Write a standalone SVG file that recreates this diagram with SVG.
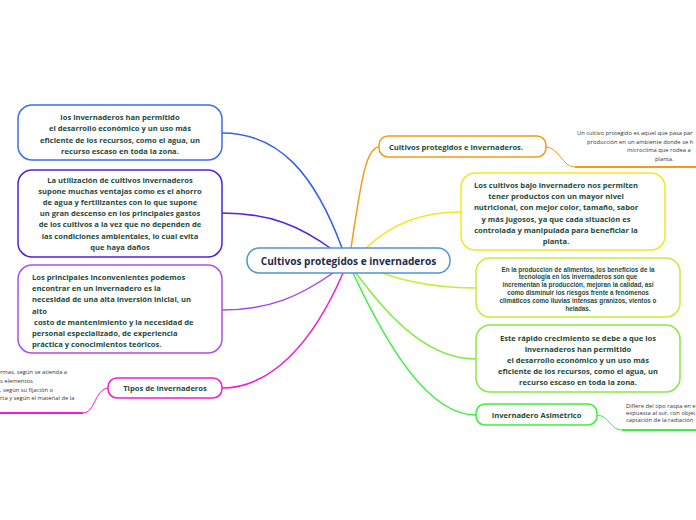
<svg xmlns="http://www.w3.org/2000/svg" width="696" height="520" viewBox="0 0 696 520">
<style>
.n{fill:#fff;stroke-width:1.5}
.t{font-family:"Open Sans","Noto Sans",sans-serif;font-weight:700;font-size:7.6px;fill:#1d4a3c}
.c{text-anchor:middle}
.a{font-family:"Liberation Sans",Arial,sans-serif;font-weight:700;font-size:6.3px;fill:#1d4a3c;text-anchor:middle}
.s{font-family:"Open Sans","Noto Sans",sans-serif;font-size:5.8px;fill:#333}
.e{fill:none;stroke-width:1.5;stroke-linecap:round}
</style>
<rect width="696" height="520" fill="#fff"/>
<g id="connectors">
<path class="e" stroke="#2f62f2" d="M342,248 C315,175 280,133 222,133"/>
<path class="e" stroke="#5424e0" d="M333,250 C300,226 270,213 222,213"/>
<path class="e" stroke="#a844ea" d="M333,273 C300,296 270,310 222,310"/>
<path class="e" stroke="#f21ad6" d="M343,273 C312,345 270,388 222,388"/>
<path class="e" stroke="#f59a1b" d="M351,248 C360,190 365,147 379,147"/>
<path class="e" stroke="#f3e625" d="M366,248 C392,224 420,212 461,212"/>
<path class="e" stroke="#c2ee3e" d="M382,273 C410,283 440,288 476,288"/>
<path class="e" stroke="#86ea46" d="M356,273 C392,322 430,359 476,359"/>
<path class="e" stroke="#3eee3e" d="M353,273 C390,352 430,415 476,415"/>
<path fill="none" stroke="#f59a1b" stroke-width="1" d="M546,147 C560,148 562,167 575,167"/>
<path fill="none" stroke="#f59a1b" stroke-width="2" d="M575,167 L696,167"/>
<path fill="none" stroke="#3eee3e" stroke-width="1" d="M597,415 C610,416 610,430 622,430"/>
<path fill="none" stroke="#3eee3e" stroke-width="2" d="M622,430 L696,430"/>
<path fill="none" stroke="#f21ad6" stroke-width="1" d="M108,388 C95,389 95,413 83,413"/>
<path fill="none" stroke="#f21ad6" stroke-width="2" d="M83,413 L0,413"/>
</g>
<g id="center">
<rect class="n" x="247" y="248" width="203" height="25" rx="12" stroke="#4f93d8"/>
<text x="348.5" y="264.5" class="c" font-family="'Open Sans','Noto Sans',sans-serif" font-weight="700" font-size="10.1" fill="#1c2b4d">Cultivos protegidos e invernaderos</text>
</g>
<g id="node-blue">
<rect class="n" x="18" y="105" width="204" height="55" rx="14" stroke="#3d6cf5"/>
<text class="t c"><tspan x="120" y="120">los invernaderos han permitido</tspan><tspan x="120" y="131.3">el desarrollo económico y un uso más</tspan><tspan x="120" y="142.6">eficiente de los recursos, como el agua, un</tspan><tspan x="120" y="153.9">recurso escaso en toda la zona.</tspan></text>
</g>
<g id="node-violet">
<rect class="n" x="18" y="170" width="204" height="87" rx="14" stroke="#4f20e2"/>
<text class="t c"><tspan x="120" y="183">La utilización de cultivos invernaderos</tspan><tspan x="120" y="194.1">supone muchas ventajas como es el ahorro</tspan><tspan x="120" y="205.2">de agua y fertilizantes con lo que supone</tspan><tspan x="120" y="216.3">un gran descenso en los principales gastos</tspan><tspan x="120" y="227.4">de los cultivos a la vez que no dependen de</tspan><tspan x="120" y="238.5">las condiciones ambientales, lo cual evita</tspan><tspan x="120" y="249.6">que haya daños</tspan></text>
</g>
<g id="node-purple">
<rect class="n" x="18" y="265" width="204" height="88" rx="14" stroke="#b04ee8"/>
<text class="t"><tspan x="32" y="280">Los principales inconvenientes podemos</tspan><tspan x="32" y="291.2">encontrar en un invernadero es la</tspan><tspan x="32" y="302.4">necesidad de una alta inversión inicial, un</tspan><tspan x="32" y="313.6">alto</tspan><tspan x="32" y="324.8"> costo de mantenimiento y la necesidad de</tspan><tspan x="32" y="336">personal especializado, de experiencia</tspan><tspan x="32" y="347.2">práctica y conocimientos teóricos.</tspan></text>
</g>
<g id="node-tipos">
<rect class="n" x="108" y="378" width="114" height="20" rx="9" stroke="#f21ad6"/>
<text class="t c" x="165" y="391">Tipos de invernaderos</text>
<text class="s"><tspan x="0" y="374">rmas, según se atienda a</tspan><tspan x="0" y="383">s elementos</tspan><tspan x="0" y="391.5">, según su fijación o</tspan><tspan x="0" y="400">rta y según el material de la</tspan></text>
</g>
<g id="node-orange">
<rect class="n" x="379" y="136" width="167" height="21" rx="9" stroke="#f59a1b"/>
<text class="t c" x="456" y="149.5">Cultivos protegidos e invernaderos.</text>
<text class="s"><tspan x="577" y="135">Un cultivo protegido es aquel que pasa par</tspan><tspan x="587" y="143.5">producción en un ambiente donde se h</tspan><tspan x="627" y="152">microclima que rodea a</tspan><tspan x="655" y="160.5">planta.</tspan></text>
</g>
<g id="node-yellow">
<rect class="n" x="461" y="173" width="204" height="77" rx="14" stroke="#f3e625"/>
<text class="t c"><tspan x="556" y="188">Los cultivos bajo invernadero nos permiten</tspan><tspan x="556" y="199.2">tener productos con un mayor nivel</tspan><tspan x="556" y="210.4">nutricional, con mejor color, tamaño, sabor</tspan><tspan x="556" y="221.6">y más jugosos, ya que cada situación es</tspan><tspan x="556" y="232.8">controlada y manipulada para beneficiar la</tspan><tspan x="556" y="244">planta.</tspan></text>
</g>
<g id="node-lime">
<rect class="n" x="476" y="258" width="204" height="59" rx="14" stroke="#c2ee3e"/>
<text class="a"><tspan x="578" y="271.5">En la produccion de alimentos, los beneficios de la</tspan><tspan x="578" y="279.3">tecnologia en los invernaderos son que</tspan><tspan x="578" y="287.1">incrementan la producción, mejoran la calidad, así</tspan><tspan x="578" y="294.9">como disminuir los riesgos frente a fenómenos</tspan><tspan x="578" y="302.7">climáticos como lluvias intensas granizos, vientos o</tspan><tspan x="578" y="310.5">heladas.</tspan></text>
</g>
<g id="node-green">
<rect class="n" x="476" y="325" width="204" height="67" rx="14" stroke="#86ea46"/>
<text class="t c"><tspan x="578" y="341">Este rápido crecimiento se debe a que los</tspan><tspan x="578" y="352">invernaderos han permitido</tspan><tspan x="578" y="363">el desarrollo económico y un uso más</tspan><tspan x="578" y="374">eficiente de los recursos, como el agua, un</tspan><tspan x="578" y="385">recurso escaso en toda la zona.</tspan></text>
</g>
<g id="node-asimetrico">
<rect class="n" x="476" y="404" width="121" height="21" rx="9" stroke="#3eee3e"/>
<text class="t c" x="536.5" y="417.5">Invernadero Asimétrico</text>
<text class="s"><tspan x="626" y="408">Difiere del tipo raspa en e</tspan><tspan x="626" y="415">expuesta al sur, con objet</tspan><tspan x="626" y="422">captación de la radiación</tspan></text>
</g>
</svg>
